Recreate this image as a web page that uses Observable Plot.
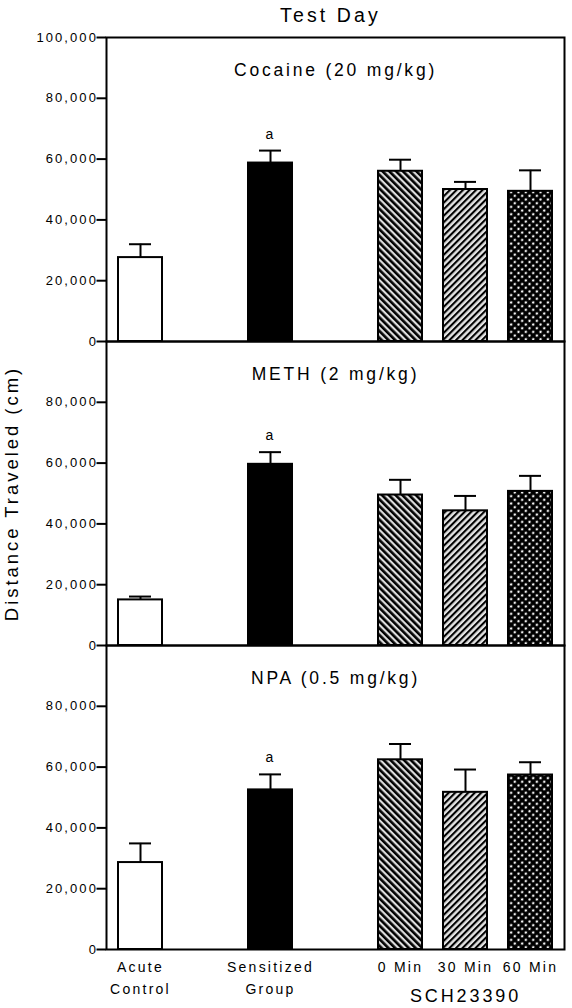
<!DOCTYPE html>
<html><head><meta charset="utf-8">
<script src="https://cdn.jsdelivr.net/npm/d3@7"></script>
<script src="https://cdn.jsdelivr.net/npm/@observablehq/plot@0.6"></script>
<style>
html,body{margin:0;padding:0;background:#fff;}
#chart svg text{letter-spacing:0.16em;}
#chart svg g[aria-label="y-axis tick label"]{font-size:13px;}
</style></head><body><div id="chart"></div>
<script>
// ---- data ----
const panels = ["Cocaine (20 mg/kg)", "METH (2 mg/kg)", "NPA (0.5 mg/kg)"];
const groups = ["Acute Control", "Sensitized Group", "0 Min", "30 Min", "60 Min"];
const groupLabels = ["Acute\nControl", "Sensitized\nGroup", "0 Min", "30 Min", "60 Min"];
const slots = ["Acute Control", "gap1", "Sensitized Group", "gap2", "0 Min", "30 Min", "60 Min"];
const cocaineMean = [27600, 58700, 56000, 50000, 49400];
const cocaineSem  = [4400, 4100, 3800, 2500, 6900];
const methMean    = [15000, 59600, 49500, 44300, 50700];
const methSem     = [1100, 4000, 5000, 4900, 5100];
const npaMean     = [28600, 52500, 62400, 51700, 57400];
const npaSem      = [6300, 5100, 5200, 7500, 4200];
const sigLabels   = ["", "a", "", "", ""];
const fills = ["white", "black", "url(#hatch-back)", "url(#hatch-fwd)", "url(#crosshatch)"];
const yTicks = [0, 20000, 40000, 60000, 80000];
const yTopTick = [100000];
const titleText = "Test Day";
const yLabel = "Distance Traveled (cm)";
const drugLabel = "SCH23390";

const means = [cocaineMean, methMean, npaMean];
const sems = [cocaineSem, methSem, npaSem];
const rows = panels.flatMap((p, i) => groups.map((g, j) => ({
  panel: p, group: g, label: groupLabels[j], mean: means[i][j], sem: sems[i][j],
  top: means[i][j] + sems[i][j], sig: sigLabels[j], fill: fills[j]
})));

const fmt = d3.format(",");

const plot = Plot.plot({
  width: 572, height: 1008,
  marginTop: 36, marginBottom: 59, marginLeft: 106, marginRight: 8,
  style: {fontFamily: '"Liberation Sans", Arial, sans-serif', fontSize: "13px", color: "black", background: "white"},
  x: {type: "band", domain: slots, paddingInner: 0.33, paddingOuter: 0.165, axis: null},
  y: {domain: [0, 100000], axis: null},
  fy: {domain: panels, padding: 0, axis: null},
  color: {type: "identity"},
  marks: [
    Plot.barY(rows, {fy: "panel", x: "group", y: "mean", fill: "fill", stroke: "black", strokeWidth: 2}),
    Plot.ruleX(rows, {fy: "panel", x: "group", y1: "mean", y2: "top", stroke: "black", strokeWidth: 2}),
    Plot.tickY(rows, {fy: "panel", x: "group", y: "top", stroke: "black", strokeWidth: 2, insetLeft: 11, insetRight: 11}),
    Plot.text(rows.filter(d => d.sig), {fy: "panel", x: "group", y: "top", text: "sig", dy: -12, lineAnchor: "bottom", fontSize: 14}),
    Plot.frame({stroke: "black", strokeWidth: 2}),
    Plot.axisY(yTicks, {anchor: "left", tickSize: 9.5, tickPadding: -1, strokeWidth: 2, tickFormat: fmt, fontSize: 13, label: null}),
    Plot.axisY(yTopTick, {anchor: "left", facetAnchor: "top", tickSize: 9.5, tickPadding: -1, strokeWidth: 2, tickFormat: fmt, fontSize: 13, label: null}),
    Plot.text(panels, {fy: d => d, frameAnchor: "top", text: d => d, dy: 38.5, lineAnchor: "bottom", fontSize: 17.5}),
    Plot.text([panels[0]], {fy: d => d, frameAnchor: "top", text: () => titleText, dy: -15.3, dx: -5, lineAnchor: "bottom", fontSize: 19.5}),
    Plot.text([panels[1]], {fy: d => d, frameAnchor: "left", textAnchor: "middle", text: () => yLabel, rotate: -90, dx: -94, fontSize: 18.5}),
    Plot.text(rows.filter(d => d.panel === panels[2]), {fy: "panel", x: "group", text: "label", frameAnchor: "bottom", dy: 7.4, lineAnchor: "top", lineHeight: 1.543, fontSize: 14}),
    Plot.text([panels[2]], {fy: d => d, x: () => "30 Min", frameAnchor: "bottom", text: () => drugLabel, dy: 52.7, lineAnchor: "bottom", fontSize: 18})
  ]
});

// patterns
const defs = d3.select(plot).insert("defs", ":first-child");
function stripes(id, angle, size, black, bg) {
  const p = defs.append("pattern").attr("id", id).attr("patternUnits", "userSpaceOnUse")
    .attr("width", size).attr("height", size).attr("patternTransform", `rotate(${angle})`);
  p.append("rect").attr("width", size).attr("height", size).attr("fill", bg);
  p.append("rect").attr("width", black).attr("height", size).attr("fill", "black");
}
stripes("hatch-back", -45, 4.8, 2.6, "#dedede");
stripes("hatch-fwd", 45, 4.6, 2.1, "#e4e4e4");
const ch = defs.append("pattern").attr("id", "crosshatch").attr("patternUnits", "userSpaceOnUse")
  .attr("width", 5.2).attr("height", 5.2).attr("patternTransform", "rotate(45)");
ch.append("rect").attr("width", 5.2).attr("height", 5.2).attr("fill", "black");
ch.append("circle").attr("cx", 2.6).attr("cy", 2.6).attr("r", 1.25).attr("fill", "#f2f2f2");

document.getElementById("chart").appendChild(plot);
</script></body></html>
